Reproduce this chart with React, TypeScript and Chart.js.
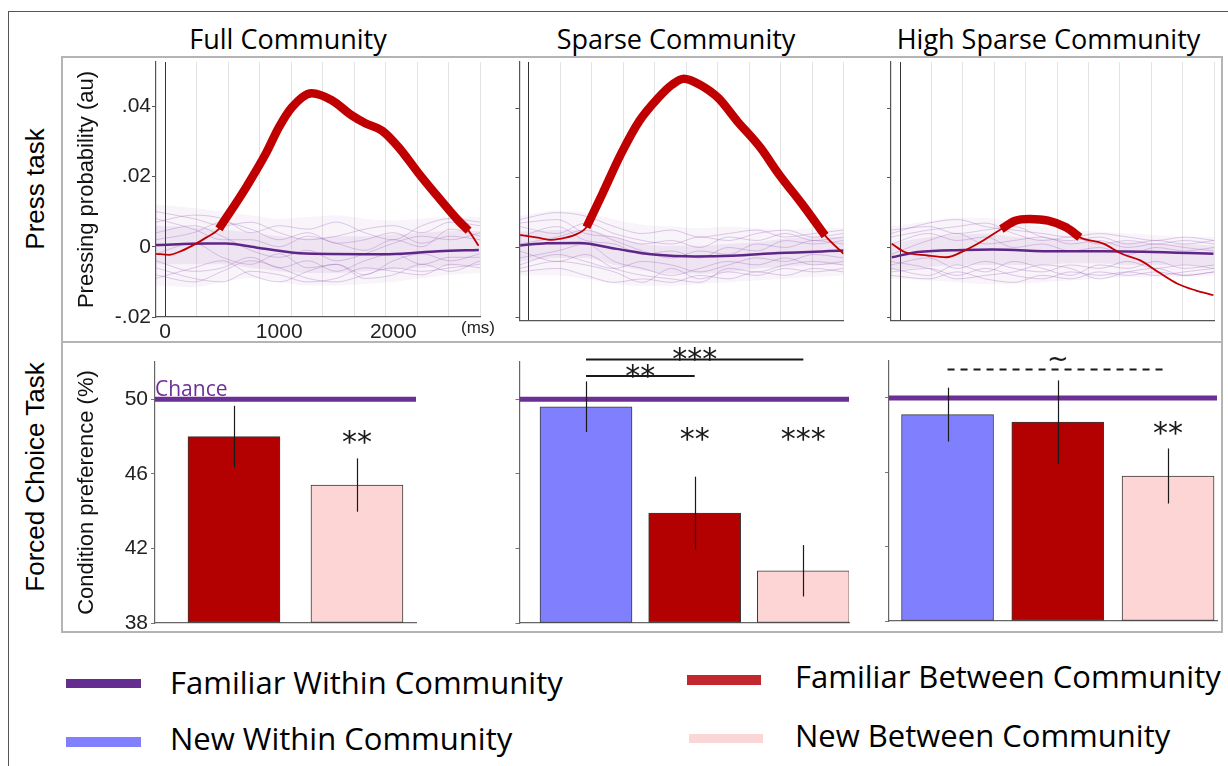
import React, { useEffect, useRef } from 'react';
import { Chart, registerables } from 'chart.js';

Chart.register(...registerables);

// ---------------- text ----------------
const PANEL_TITLES = ['Full Community', 'Sparse Community', 'High Sparse Community'];
const ROW_LABELS = ['Press task', 'Forced Choice Task'];
const PRESS_Y_TITLE = 'Pressing probability (au)';
const PREF_Y_TITLE = 'Condition preference (%)';
const TIME_UNIT = '(ms)';
const CHANCE_LABEL = 'Chance';
const LEGEND_LABELS = [
  'Familiar Within Community',
  'New Within Community',
  'Familiar Between Community',
  'New Between Community',
];

// ---------------- axes ----------------
const TIME_TICKS = [0, 1000, 2000];
const TIME_GRID = [276, 552, 828, 1104, 1380, 1656, 1932, 2208, 2484, 2760];
const TIME_MIN = -80;
const TIME_MAX = 2760;
const PRESS_TICKS = [-0.02, 0, 0.02, 0.04];
const PREF_TICKS = [38, 42, 46, 50];
const PREF_MIN = 38;
const PREF_MAX = 52;
const CHANCE = 50;

// ---------------- press task: Full Community ----------------
const FULL_RED_MS = [-79, 35, 149, 271, 359, 472, 709, 884, 997, 1111, 1286, 1461, 1636, 1759, 1899, 2047, 2222, 2397, 2572, 2660, 2747];
const FULL_RED = [-0.002, -0.0023, -0.0011, 0.0009, 0.0026, 0.0051, 0.0169, 0.0266, 0.034, 0.0397, 0.0437, 0.0417, 0.0374, 0.0351, 0.0331, 0.0283, 0.0209, 0.014, 0.0074, 0.0046, 0.0003];
const FULL_SIG_MS = [472, 2660];
const FULL_MEAN_MS = [-80, 359, 534, 796, 1234, 1960, 2397, 2750];
const FULL_MEAN = [0.0005, 0.0009, 0.0009, -0.0002, -0.0019, -0.0021, -0.0013, -0.0009];

// null-distribution cloud (shared time grid)
const BAND_MS = [-80, 250, 500, 750, 1000, 1250, 1500, 1750, 2000, 2250, 2500, 2760];
const FULL_OUTER_HI = [0.012, 0.011, 0.01, 0.009, 0.008, 0.0085, 0.009, 0.008, 0.0075, 0.008, 0.0085, 0.0085];
const FULL_OUTER_LO = [-0.011, -0.0115, -0.01, -0.009, -0.01, -0.011, -0.011, -0.0105, -0.01, -0.009, -0.008, -0.0075];
const FULL_INNER_HI = [0.006, 0.0055, 0.005, 0.004, 0.003, 0.0025, 0.003, 0.003, 0.0035, 0.004, 0.0045, 0.0045];
const FULL_INNER_LO = [-0.005, -0.005, -0.005, -0.006, -0.007, -0.0075, -0.0075, -0.007, -0.0065, -0.006, -0.0055, -0.005];
const FULL_TRACES = [
  [0.01, 0.008, 0.006, 0.007, 0.004, 0.002, 0.003, 0.005, 0.006, 0.004, 0.007, 0.006],
  [-0.006, -0.009, -0.01, -0.007, -0.008, -0.01, -0.009, -0.006, -0.007, -0.008, -0.005, -0.006],
  [0.004, 0.006, 0.003, -0.001, -0.003, -0.001, -0.004, -0.002, 0.001, 0.003, 0.002, 0.004],
  [-0.002, 0.001, -0.003, -0.005, -0.002, -0.006, -0.005, -0.008, -0.004, -0.002, -0.004, -0.002],
  [0.007, 0.009, 0.008, 0.004, 0.006, 0.005, 0.007, 0.004, 0.002, 0.006, 0.008, 0.007],
  [-0.009, -0.006, -0.004, -0.008, -0.01, -0.007, -0.005, -0.009, -0.008, -0.005, -0.007, -0.004],
  [0.002, 0.004, 0.007, 0.005, 0.002, 0.004, 0.001, 0.002, 0.004, 0.001, 0.003, 0.002],
  [-0.004, -0.007, -0.006, -0.003, -0.006, -0.004, -0.007, -0.004, -0.002, -0.005, -0.003, -0.003],
  [0.008, 0.005, 0.002, 0.002, 0.0, 0.003, 0.001, -0.001, 0.002, 0.0, 0.005, 0.003],
  [-0.008, -0.01, -0.007, -0.004, -0.006, -0.009, -0.01, -0.008, -0.006, -0.007, -0.006, -0.005],
];

// ---------------- press task: Sparse Community ----------------
const SPARSE_RED_MS = [-74, 79, 201, 324, 425, 507, 647, 811, 971, 1136, 1258, 1360, 1501, 1662, 1827, 2030, 2192, 2396, 2599, 2761];
const SPARSE_RED = [0.0036, 0.0028, 0.0022, 0.0028, 0.0039, 0.0058, 0.0154, 0.0269, 0.0363, 0.0429, 0.0467, 0.0484, 0.0467, 0.0429, 0.0363, 0.0287, 0.0211, 0.0125, 0.0034, -0.0018];
const SPARSE_SIG_MS = [507, 2599];
const SPARSE_MEAN_MS = [-74, 158, 446, 770, 1094, 1461, 1785, 2192, 2761];
const SPARSE_MEAN = [0.0006, 0.0012, 0.0013, -0.0004, -0.002, -0.0026, -0.0024, -0.0016, -0.0009];
const SPARSE_OUTER_HI = [0.009, 0.0105, 0.01, 0.008, 0.0065, 0.006, 0.0055, 0.006, 0.0055, 0.005, 0.0055, 0.0055];
const SPARSE_OUTER_LO = [-0.008, -0.008, -0.009, -0.0105, -0.011, -0.011, -0.0105, -0.01, -0.0095, -0.009, -0.0085, -0.008];
const SPARSE_INNER_HI = [0.0045, 0.005, 0.005, 0.003, 0.001, 0.0005, 0.0005, 0.001, 0.0015, 0.0025, 0.003, 0.003];
const SPARSE_INNER_LO = [-0.004, -0.003, -0.003, -0.005, -0.0065, -0.0075, -0.0075, -0.007, -0.006, -0.0055, -0.005, -0.005];
const SPARSE_TRACES = [
  [0.008, 0.01, 0.009, 0.006, 0.004, 0.005, 0.003, 0.004, 0.005, 0.003, 0.004, 0.005],
  [-0.007, -0.006, -0.008, -0.01, -0.009, -0.01, -0.008, -0.009, -0.007, -0.008, -0.006, -0.007],
  [0.003, 0.006, 0.002, 0.001, -0.002, -0.001, -0.003, 0.0, -0.001, 0.002, 0.001, 0.002],
  [-0.003, -0.001, 0.001, -0.004, -0.006, -0.008, -0.006, -0.004, -0.005, -0.003, -0.005, -0.004],
  [0.006, 0.004, 0.007, 0.004, 0.002, 0.001, 0.003, 0.002, 0.004, 0.005, 0.003, 0.004],
  [-0.006, -0.004, -0.005, -0.007, -0.01, -0.006, -0.009, -0.007, -0.008, -0.006, -0.007, -0.006],
  [0.001, 0.003, 0.005, 0.002, -0.001, -0.003, -0.001, -0.002, 0.001, 0.0, 0.002, 0.001],
  [-0.005, -0.002, -0.004, -0.006, -0.004, -0.005, -0.007, -0.005, -0.003, -0.004, -0.002, -0.003],
  [0.007, 0.008, 0.004, 0.003, 0.001, 0.002, 0.0, 0.003, 0.002, 0.004, 0.002, 0.003],
  [-0.001, -0.004, -0.002, -0.006, -0.008, -0.009, -0.01, -0.006, -0.007, -0.005, -0.004, -0.005],
];

// ---------------- press task: High Sparse Community ----------------
const HIGH_RED_MS = [-73, 41, 242, 406, 566, 731, 890, 1012, 1135, 1301, 1459, 1581, 1787, 1949, 2112, 2273, 2439, 2597, 2755];
const HIGH_RED = [0.0011, -0.0013, -0.0023, -0.0028, -0.0009, 0.002, 0.0053, 0.0077, 0.0082, 0.0077, 0.0058, 0.0029, 0.0011, -0.0018, -0.0037, -0.0071, -0.0104, -0.0123, -0.0137];
const HIGH_SIG_MS = [890, 1581];
const HIGH_MEAN_MS = [-73, 155, 566, 811, 1380, 1787, 2755];
const HIGH_MEAN = [-0.0028, -0.0013, -0.0007, -0.0006, -0.0011, -0.0011, -0.0018];
const HIGH_OUTER_HI = [0.006, 0.0075, 0.0085, 0.0085, 0.007, 0.006, 0.005, 0.0045, 0.004, 0.0035, 0.003, 0.003];
const HIGH_OUTER_LO = [-0.009, -0.0095, -0.01, -0.0105, -0.0105, -0.01, -0.0095, -0.009, -0.0085, -0.0085, -0.0085, -0.008];
const HIGH_INNER_HI = [0.001, 0.003, 0.0035, 0.004, 0.003, 0.0025, 0.002, 0.0015, 0.0015, 0.001, 0.001, 0.0005];
const HIGH_INNER_LO = [-0.0065, -0.0055, -0.005, -0.005, -0.005, -0.005, -0.0045, -0.0045, -0.005, -0.005, -0.005, -0.0055];
const HIGH_TRACES = [
  [0.004, 0.007, 0.008, 0.006, 0.005, 0.004, 0.003, 0.004, 0.003, 0.002, 0.003, 0.002],
  [-0.008, -0.009, -0.007, -0.009, -0.01, -0.008, -0.009, -0.007, -0.008, -0.007, -0.008, -0.007],
  [0.001, 0.004, 0.002, 0.003, 0.0, 0.001, -0.001, 0.0, -0.002, 0.0, -0.001, 0.0],
  [-0.005, -0.003, -0.006, -0.004, -0.006, -0.007, -0.005, -0.006, -0.004, -0.006, -0.005, -0.006],
  [0.003, 0.005, 0.006, 0.007, 0.004, 0.002, 0.003, 0.001, 0.002, 0.001, 0.002, 0.001],
  [-0.007, -0.006, -0.008, -0.006, -0.008, -0.009, -0.007, -0.008, -0.007, -0.008, -0.007, -0.006],
  [-0.002, 0.002, 0.004, 0.001, 0.002, 0.003, 0.001, 0.002, 0.0, 0.001, 0.0, -0.001],
  [-0.006, -0.008, -0.005, -0.007, -0.004, -0.006, -0.008, -0.005, -0.006, -0.004, -0.006, -0.005],
  [0.005, 0.006, 0.004, 0.005, 0.006, 0.003, 0.002, 0.003, 0.001, 0.002, 0.001, 0.002],
  [-0.004, -0.006, -0.009, -0.008, -0.007, -0.005, -0.006, -0.009, -0.007, -0.006, -0.008, -0.007],
];

// ---------------- forced choice task ----------------
const FULL_BAR_CONDITIONS = ['Familiar Between Community', 'New Between Community'];
const FULL_BAR_VALUES = [48.0, 45.4];
const FULL_BAR_ERRORS = [1.65, 1.43];
const FULL_BAR_STARS = ['', '**'];

const SPARSE_BAR_CONDITIONS = ['New Within Community', 'Familiar Between Community', 'New Between Community'];
const SPARSE_BAR_VALUES = [49.6, 43.9, 40.8];
const SPARSE_BAR_ERRORS = [1.36, 1.95, 1.38];
const SPARSE_BAR_STARS = ['', '**', '***'];
const SPARSE_BRACKETS = [
  { from: 1, to: 2, at: 51.25, label: '**', labelAt: 51.6, dashed: false },
  { from: 1, to: 3, at: 52.14, label: '***', labelAt: 52.53, dashed: false },
];

const HIGH_BAR_CONDITIONS = ['New Within Community', 'Familiar Between Community', 'New Between Community'];
const HIGH_BAR_VALUES = [49.1, 48.7, 45.8];
const HIGH_BAR_ERRORS = [1.45, 2.24, 1.48];
const HIGH_BAR_STARS = ['', '', '**'];
const HIGH_BRACKETS = [{ from: 1, to: 3, at: 51.53, label: '~', labelAt: 52.14, dashed: true }];

// ---------------- styles ----------------
const COND_COLORS: Record<string, string> = {
  'Familiar Within Community': '#662d91',
  'New Within Community': '#8080ff',
  'Familiar Between Community': '#b30000',
  'New Between Community': '#fdd5d5',
};
const LEGEND_COLORS = ['#662d91', '#8080ff', '#c1272d', '#fbd6d6'];
const RED_LINE = '#c00000';
const MEAN_PURPLE = '#5e2686';
const CHANCE_PURPLE = '#6b2f96';
const SANS = '"Liberation Sans", Arial, Helvetica, sans-serif';
const HUMANIST = '"Open Sans", "Noto Sans", sans-serif';

const TOP_LAYOUT = [
  { x: 62, y: 42, w: 438, h: 305, axisW: 94, axisH: 30, padTop: 20, padRight: 20, yMin: -0.02, yMax: 0.0526, labels: true },
  { x: 500, y: 42, w: 360, h: 305, axisW: 19.5, axisH: 26.3, padTop: 20, padRight: 16.5, yMin: -0.021, yMax: 0.0532, labels: false },
  { x: 870, y: 42, w: 352, h: 305, axisW: 21, axisH: 26.3, padTop: 20, padRight: 8, yMin: -0.021, yMax: 0.0532, labels: false },
];
const BOTTOM_LAYOUT = [
  { x: 62, y: 342, w: 438, h: 301, axisW: 93, axisH: 20, padTop: 20, padRight: 84, xMin: 0.358, xMax: 2.48, labels: true, starAt: 48.06, chance: true },
  { x: 500, y: 342, w: 360, h: 301, axisW: 19.5, axisH: 20, padTop: 20, padRight: 11, xMin: 0.388, xMax: 3.42, labels: false, starAt: 48.25, chance: false },
  { x: 870, y: 340, w: 352, h: 301, axisW: 19, axisH: 20, padTop: 20.7, padRight: 5, xMin: 0.469, xMax: 3.444, labels: false, starAt: 48.5, chance: false },
];

const TIME_PANELS = [
  { redMs: FULL_RED_MS, red: FULL_RED, sig: FULL_SIG_MS, meanMs: FULL_MEAN_MS, mean: FULL_MEAN, outerHi: FULL_OUTER_HI, outerLo: FULL_OUTER_LO, innerHi: FULL_INNER_HI, innerLo: FULL_INNER_LO, traces: FULL_TRACES },
  { redMs: SPARSE_RED_MS, red: SPARSE_RED, sig: SPARSE_SIG_MS, meanMs: SPARSE_MEAN_MS, mean: SPARSE_MEAN, outerHi: SPARSE_OUTER_HI, outerLo: SPARSE_OUTER_LO, innerHi: SPARSE_INNER_HI, innerLo: SPARSE_INNER_LO, traces: SPARSE_TRACES },
  { redMs: HIGH_RED_MS, red: HIGH_RED, sig: HIGH_SIG_MS, meanMs: HIGH_MEAN_MS, mean: HIGH_MEAN, outerHi: HIGH_OUTER_HI, outerLo: HIGH_OUTER_LO, innerHi: HIGH_INNER_HI, innerLo: HIGH_INNER_LO, traces: HIGH_TRACES },
];
const BAR_PANELS = [
  { conditions: FULL_BAR_CONDITIONS, values: FULL_BAR_VALUES, errors: FULL_BAR_ERRORS, stars: FULL_BAR_STARS, brackets: [] as any[] },
  { conditions: SPARSE_BAR_CONDITIONS, values: SPARSE_BAR_VALUES, errors: SPARSE_BAR_ERRORS, stars: SPARSE_BAR_STARS, brackets: SPARSE_BRACKETS },
  { conditions: HIGH_BAR_CONDITIONS, values: HIGH_BAR_VALUES, errors: HIGH_BAR_ERRORS, stars: HIGH_BAR_STARS, brackets: HIGH_BRACKETS },
];

const xy = (xs: number[], ys: number[]) => xs.map((x, i) => ({ x, y: ys[i] }));
const fmtPress = (v: number) => (v === 0 ? '0' : (v < 0 ? '-' : '') + Math.abs(v).toFixed(2).replace(/^0/, ''));

function lineDs(data: any[], color: string, width: number, extra: any = {}) {
  return { type: 'line', data, borderColor: color, borderWidth: width, pointRadius: 0, fill: false, ...extra };
}

function timeConfig(p: any, lay: any): any {
  const red = xy(p.redMs, p.red);
  const sig = red.filter((d) => d.x >= p.sig[0] && d.x <= p.sig[1]);
  const none = 'rgba(0,0,0,0)';
  return {
    type: 'line',
    data: {
      datasets: [
        lineDs(sig, RED_LINE, 8.5, { borderCapStyle: 'butt' }),
        lineDs(red, RED_LINE, 1.8),
        lineDs(xy(p.meanMs, p.mean), MEAN_PURPLE, 2.5),
        ...p.traces.map((tr: number[]) => lineDs(xy(BAND_MS, tr), 'rgba(135,65,170,0.26)', 1)),
        lineDs(xy(BAND_MS, p.innerHi), none, 0, { fill: '+1', backgroundColor: 'rgba(130,70,170,0.09)' }),
        lineDs(xy(BAND_MS, p.innerLo), none, 0),
        lineDs(xy(BAND_MS, p.outerHi), none, 0, { fill: '+1', backgroundColor: 'rgba(150,100,185,0.07)' }),
        lineDs(xy(BAND_MS, p.outerLo), none, 0),
      ],
    },
    options: {
      responsive: false,
      animation: false,
      events: [],
      layout: { padding: { top: lay.padTop, right: lay.padRight, left: 0, bottom: 0 } },
      elements: { line: { tension: 0.35, cubicInterpolationMode: 'monotone' } },
      plugins: { legend: { display: false }, tooltip: { enabled: false } },
      scales: {
        x: {
          type: 'linear',
          min: TIME_MIN,
          max: TIME_MAX,
          afterBuildTicks: (s: any) => {
            s.ticks = [...TIME_TICKS, ...TIME_GRID].sort((a, b) => a - b).map((v) => ({ value: v }));
          },
          afterFit: (s: any) => {
            s.height = lay.axisH;
          },
          ticks: {
            display: lay.labels,
            autoSkip: false,
            maxRotation: 0,
            padding: 3,
            color: '#222',
            font: { family: SANS, size: 21 },
            callback: (v: number) => (TIME_TICKS.includes(v) ? String(v) : ''),
          },
          grid: {
            drawTicks: false,
            lineWidth: 1,
            color: (c: any) =>
              c.tick && c.tick.value === 0 ? '#333' : c.tick && TIME_TICKS.includes(c.tick.value) ? 'rgba(0,0,0,0)' : '#e3e3e3',
          },
          border: { color: '#555', width: 1.2 },
        },
        y: {
          min: lay.yMin,
          max: lay.yMax,
          afterBuildTicks: (s: any) => {
            s.ticks = PRESS_TICKS.map((v) => ({ value: v }));
          },
          afterFit: (s: any) => {
            s.width = lay.axisW;
          },
          ticks: { display: lay.labels, padding: 1, color: '#222', font: { family: SANS, size: 21 }, callback: fmtPress },
          grid: { drawOnChartArea: false, drawTicks: true, tickLength: 4, color: '#555' },
          border: { color: '#555', width: 1.2 },
          title: {
            display: lay.labels,
            text: PRESS_Y_TITLE,
            color: '#111',
            font: { family: SANS, size: 22 },
            padding: { top: 12, bottom: 0 },
          },
        },
      },
    },
  };
}

function barNotes(p: any, lay: any) {
  return {
    id: 'barNotes',
    afterDatasetsDraw(chart: any) {
      const { ctx } = chart;
      const x = chart.scales.x;
      const y = chart.scales.y;
      ctx.save();
      ctx.strokeStyle = '#1a1a1a';
      ctx.lineWidth = 1.2;
      p.values.forEach((v: number, i: number) => {
        const px = Math.round(x.getPixelForValue(i + 1)) + 0.5;
        ctx.beginPath();
        ctx.moveTo(px, y.getPixelForValue(v + p.errors[i]));
        ctx.lineTo(px, y.getPixelForValue(v - p.errors[i]));
        ctx.stroke();
      });
      ctx.fillStyle = '#1a1a1a';
      ctx.textAlign = 'center';
      ctx.textBaseline = 'alphabetic';
      ctx.font = '30px "DejaVu Sans"';
      p.stars.forEach((s: string, i: number) => {
        if (s) ctx.fillText(s, x.getPixelForValue(i + 1), y.getPixelForValue(lay.starAt) + 17);
      });
      p.brackets.forEach((b: any) => {
        const x0 = x.getPixelForValue(b.from);
        const x1 = x.getPixelForValue(b.to);
        const py = y.getPixelForValue(b.at);
        ctx.lineWidth = 2;
        ctx.setLineDash(b.dashed ? [7, 6] : []);
        ctx.beginPath();
        ctx.moveTo(x0, py);
        ctx.lineTo(x1, py);
        ctx.stroke();
        ctx.setLineDash([]);
        if (b.label === '~') {
          ctx.font = '26px "DejaVu Sans"';
          ctx.fillText(b.label, (x0 + x1) / 2, y.getPixelForValue(b.labelAt) + 9);
        } else {
          ctx.font = '30px "DejaVu Sans"';
          ctx.fillText(b.label, (x0 + x1) / 2, y.getPixelForValue(b.labelAt) + 17);
        }
      });
      if (lay.chance) {
        ctx.fillStyle = CHANCE_PURPLE;
        ctx.textAlign = 'left';
        ctx.font = '21px "Open Sans"';
        ctx.fillText(CHANCE_LABEL, x.getPixelForValue(lay.xMin), y.getPixelForValue(CHANCE) - 3);
      }
      ctx.restore();
    },
  };
}

function barConfig(p: any, lay: any): any {
  const bars = p.values.map((v: number, i: number) => ({ x: i + 1, y: v }));
  return {
    type: 'bar',
    data: {
      datasets: [
        {
          type: 'bar',
          data: bars,
          backgroundColor: p.conditions.map((c: string) => COND_COLORS[c]),
          borderColor: '#3a3a3a',
          borderWidth: 1,
          borderSkipped: false,
          base: PREF_MIN,
          barThickness: 92,
        },
        lineDs(
          [
            { x: lay.xMin, y: CHANCE },
            { x: lay.xMax, y: CHANCE },
          ],
          CHANCE_PURPLE,
          5,
        ),
      ],
    },
    plugins: [barNotes(p, lay)],
    options: {
      responsive: false,
      animation: false,
      events: [],
      layout: { padding: { top: lay.padTop, right: lay.padRight, left: 0, bottom: 0 } },
      plugins: { legend: { display: false }, tooltip: { enabled: false } },
      scales: {
        x: {
          type: 'linear',
          min: lay.xMin,
          max: lay.xMax,
          offset: false,
          afterFit: (s: any) => {
            s.height = lay.axisH;
          },
          ticks: { display: false },
          grid: { display: false },
          border: { color: '#666', width: 1.2 },
        },
        y: {
          min: PREF_MIN,
          max: PREF_MAX,
          afterBuildTicks: (s: any) => {
            s.ticks = PREF_TICKS.map((v) => ({ value: v }));
          },
          afterFit: (s: any) => {
            s.width = lay.axisW;
          },
          ticks: { display: lay.labels, padding: 3, color: '#222', font: { family: SANS, size: 21 } },
          grid: { drawOnChartArea: false, drawTicks: true, tickLength: 4, color: '#777' },
          border: { color: '#666', width: 1.2 },
          title: {
            display: lay.labels,
            text: PREF_Y_TITLE,
            color: '#111',
            font: { family: SANS, size: 22 },
            padding: { top: 12, bottom: 0 },
          },
        },
      },
    },
  };
}

function ChartCanvas({ lay, build }: { lay: any; build: () => any }) {
  const ref = useRef<HTMLCanvasElement>(null);
  useEffect(() => {
    const chart = new Chart(ref.current as HTMLCanvasElement, build());
    return () => chart.destroy();
  }, []);
  return (
    <canvas
      ref={ref}
      width={lay.w}
      height={lay.h}
      style={{ position: 'absolute', left: lay.x, top: lay.y, width: lay.w, height: lay.h }}
    />
  );
}

function Text({ x, y, text, size, family, rotate = false, align = 'center', color = '#000' }: any) {
  const tx = align === 'center' ? '-50%' : '0';
  return (
    <div
      style={{
        position: 'absolute',
        left: x,
        top: y,
        transform: `translate(${tx}, -50%)${rotate ? ' rotate(-90deg)' : ''}`,
        fontFamily: family,
        fontSize: size,
        lineHeight: 1,
        whiteSpace: 'nowrap',
        color,
      }}
    >
      {text}
    </div>
  );
}

const TITLE_POS = [
  { x: 288, y: 38 },
  { x: 676, y: 38 },
  { x: 1048.5, y: 38 },
];
const ROW_POS = [
  { x: 35, y: 189 },
  { x: 35, y: 476.5 },
];
const LEGEND_POS = [
  { sx: 66, sy: 679, sw: 75, sh: 9, tx: 170, ty: 682 },
  { sx: 66, sy: 737, sw: 75, sh: 10, tx: 170, ty: 738 },
  { sx: 687, sy: 675, sw: 74, sh: 10, tx: 795, ty: 676 },
  { sx: 689, sy: 734, sw: 74, sh: 9, tx: 795, ty: 735 },
];

export default function App() {
  return (
    <div style={{ position: 'absolute', left: 0, top: 0, width: 1228, height: 766, background: '#fff', overflow: 'hidden' }}>
      {/* outer frame */}
      <div style={{ position: 'absolute', left: 8, top: 11, width: 1230, height: 770, borderLeft: '1px solid #555', borderTop: '1px solid #555' }} />
      {/* row frames */}
      <div style={{ position: 'absolute', left: 61, top: 56, width: 1162, height: 287, boxSizing: 'border-box', border: '2px solid #b4b4b4' }} />
      <div style={{ position: 'absolute', left: 61, top: 341, width: 1162, height: 292, boxSizing: 'border-box', border: '2px solid #b4b4b4' }} />

      {PANEL_TITLES.map((t, i) => (
        <Text key={t} x={TITLE_POS[i].x} y={TITLE_POS[i].y} text={t} size={27} family={HUMANIST} />
      ))}
      {ROW_LABELS.map((t, i) => (
        <Text key={t} x={ROW_POS[i].x} y={ROW_POS[i].y} text={t} size={26} family={SANS} rotate />
      ))}

      {TIME_PANELS.map((p, i) => (
        <ChartCanvas key={'t' + i} lay={TOP_LAYOUT[i]} build={() => timeConfig(p, TOP_LAYOUT[i])} />
      ))}
      {BAR_PANELS.map((p, i) => (
        <ChartCanvas key={'b' + i} lay={BOTTOM_LAYOUT[i]} build={() => barConfig(p, BOTTOM_LAYOUT[i])} />
      ))}

      <Text x={478} y={327} text={TIME_UNIT} size={17} family={SANS} color="#222" />

      {LEGEND_LABELS.map((t, i) => (
        <React.Fragment key={t}>
          <div
            style={{
              position: 'absolute',
              left: LEGEND_POS[i].sx,
              top: LEGEND_POS[i].sy,
              width: LEGEND_POS[i].sw,
              height: LEGEND_POS[i].sh,
              background: LEGEND_COLORS[i],
            }}
          />
          <Text x={LEGEND_POS[i].tx} y={LEGEND_POS[i].ty} text={t} size={31} family={HUMANIST} align="left" />
        </React.Fragment>
      ))}
    </div>
  );
}
